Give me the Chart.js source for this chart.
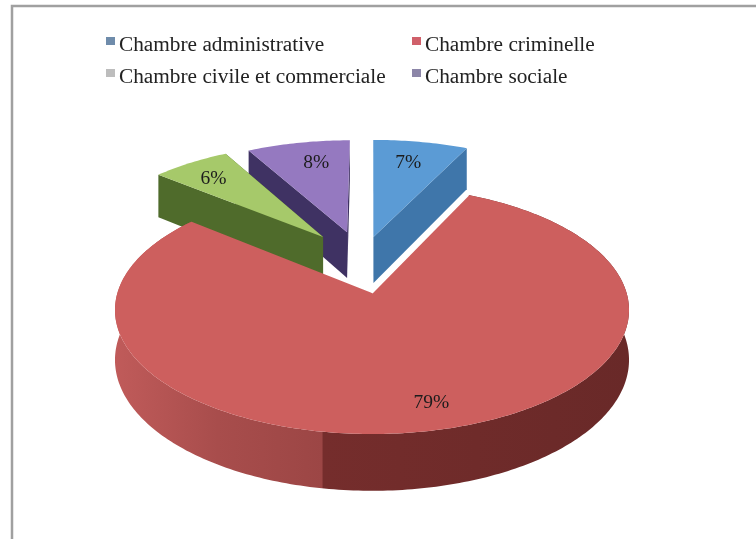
<!DOCTYPE html>
<html>
<head>
<meta charset="utf-8">
<style>
html,body{margin:0;padding:0;background:#fff}
#wrap{position:absolute;left:0;top:0;width:756px;height:539px}
</style>
<script src="https://cdn.jsdelivr.net/npm/chart.js@4"></script>
</head>
<body>
<div id="wrap"><canvas id="c" width="756" height="539"></canvas></div>
<script>
// Share of decisions per chamber
const categories = ['Chambre administrative', 'Chambre criminelle', 'Chambre civile et commerciale', 'Chambre sociale'];
const shares = [7, 79, 6, 8];
const percentLabels = ['7%', '79%', '6%', '8%'];

// Swatch, top-face and side-face colours per chamber
const swatchColors = ['#6f8cab', '#d0606a', '#bdbdbd', '#8c86a8'];
const topColors = ['#5b9bd5', '#cd5f5e', '#a6c96a', '#9579c0'];
const sideColors = ['#3f76aa', '#8a3c3b', '#4f6b2b', '#3f3263'];

// How far each wedge is pulled out of the disc, in disc radii (x right, y to the back)
const pullOut = [[0.006, 0.49], [0, 0], [-0.205, 0.49], [-0.105, 0.535]];
const wedgeScale = [1.03, 1, 0.99, 0.98];
const paintOrder = [0, 3, 2, 1];
// Small pixel nudges that keep each percentage clear of the wedge edges
const labelNudge = [[-2, 0], [11, 6], [-3, 1], [9, 3]];

// Perspective of the tilted disc
const view = { bx: 254.6, ay: 121.7, p: 0.137, depth: 49 };

function project(arc, u, v, down) {
  const w = 1 + view.p * v;
  return {
    x: arc.x + view.bx * u / w,
    y: arc.y - view.ay * v / w + (down ? view.depth / w : 0)
  };
}

function wedgeOutline(arc, i, down) {
  const [ox, oy] = pullOut[i];
  const s = wedgeScale[i];
  const pts = [];
  const n = Math.max(4, Math.ceil((arc.endAngle - arc.startAngle) * 60));
  for (let k = 0; k <= n; k++) {
    const a = arc.startAngle + (arc.endAngle - arc.startAngle) * k / n;
    pts.push(project(arc, ox + s * Math.cos(a), oy - s * Math.sin(a), down));
  }
  return { apex: project(arc, ox, oy, down), rim: pts };
}

function fillPoly(ctx, pts, fill) {
  ctx.beginPath();
  pts.forEach((p, k) => k ? ctx.lineTo(p.x, p.y) : ctx.moveTo(p.x, p.y));
  ctx.closePath();
  ctx.fillStyle = fill;
  ctx.fill();
}

const tiltedPie = {
  id: 'tiltedPie',
  beforeDatasetsDraw(chart) {
    const ctx = chart.ctx;
    const arcs = chart.getDatasetMeta(0).data;
    ctx.save();
    paintOrder.forEach(i => {
      const arc = arcs[i];
      const top = wedgeOutline(arc, i, false);
      const low = wedgeOutline(arc, i, true);
      const last = top.rim.length - 1;
      if (i === 1) {
        // front wall of the large slice, lit from the left
        const g = ctx.createLinearGradient(115, 0, 630, 0);
        g.addColorStop(0, '#c05b5a');
        g.addColorStop(0.2, '#a84d4c');
        g.addColorStop(0.402, '#9c4645');
        g.addColorStop(0.404, '#752d2c');
        g.addColorStop(1, '#692928');
        fillPoly(ctx, top.rim.concat(low.rim.slice().reverse()), g);
      } else {
        // cut faces that look towards the viewer
        fillPoly(ctx, [top.apex, top.rim[0], low.rim[0], low.apex], sideColors[i]);
        fillPoly(ctx, [top.apex, top.rim[last], low.rim[last], low.apex], sideColors[i]);
      }
      fillPoly(ctx, [top.apex].concat(top.rim), topColors[i]);
      if (i === 1) {
        ctx.beginPath();
        ctx.moveTo(top.apex.x, top.apex.y);
        ctx.lineTo(top.rim[0].x, top.rim[0].y);
        ctx.strokeStyle = '#ffffff';
        ctx.lineWidth = 1.6;
        ctx.stroke();
      }
    });
    ctx.restore();
    return false;
  },
  afterDraw(chart) {
    const ctx = chart.ctx;
    const arcs = chart.getDatasetMeta(0).data;
    ctx.save();
    // percentage labels on the top faces
    ctx.font = '19.5px "Liberation Serif"';
    ctx.fillStyle = '#1c1c1c';
    ctx.textAlign = 'center';
    ctx.textBaseline = 'middle';
    arcs.forEach((arc, i) => {
      const mid = (arc.startAngle + arc.endAngle) / 2;
      const [ox, oy] = pullOut[i];
      const p = project(arc, ox + 0.78 * Math.cos(mid), oy - 0.78 * Math.sin(mid), false);
      ctx.fillText(percentLabels[i], p.x + labelNudge[i][0], p.y + labelNudge[i][1]);
    });
    // two-column legend
    ctx.textAlign = 'left';
    ctx.textBaseline = 'alphabetic';
    ctx.font = '21.3px "Liberation Serif"';
    const columns = [106, 412];
    const rows = [51, 83];
    categories.forEach((name, i) => {
      const x = columns[i % 2];
      const y = rows[i >> 1];
      ctx.fillStyle = swatchColors[i];
      ctx.fillRect(x, y - 14, 9, 8);
      ctx.fillStyle = '#222222';
      ctx.fillText(name, x + 13, y);
    });
    // frame: top and left edges only reach the page
    ctx.strokeStyle = '#a0a0a0';
    ctx.lineWidth = 2.5;
    ctx.beginPath();
    ctx.moveTo(12, 539);
    ctx.lineTo(12, 6);
    ctx.lineTo(756, 6);
    ctx.stroke();
    ctx.restore();
  }
};

new Chart(document.getElementById('c'), {
  type: 'pie',
  data: { labels: categories, datasets: [{ data: shares, backgroundColor: topColors, borderWidth: 0 }] },
  options: {
    responsive: false,
    animation: false,
    // disc anchor sits at (372, 293)
    layout: { padding: { left: 0, right: 12, top: 47, bottom: 0 } },
    plugins: { legend: { display: false }, tooltip: { enabled: false } }
  },
  plugins: [tiltedPie]
});
</script>
</body>
</html>
